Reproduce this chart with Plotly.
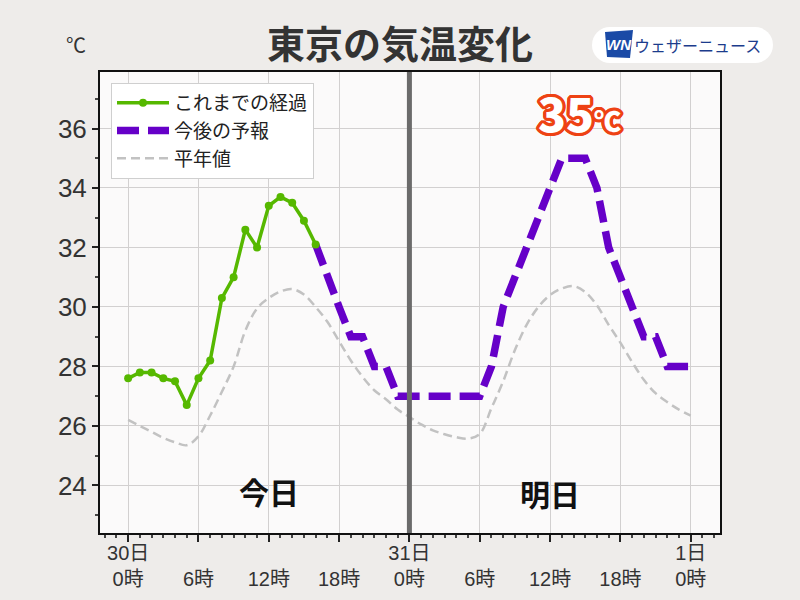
import math
import plotly.graph_objects as go

# ---------------- data ----------------
obs_hours = list(range(0, 17))
obs_temps = [27.6, 27.8, 27.8, 27.6, 27.5, 26.7, 27.6, 28.2, 30.3, 31.0, 32.6,
             32.0, 33.4, 33.7, 33.5, 32.9, 32.1]

fc_hours = list(range(16, 49))
fc_temps = [32.1, 31, 30, 29, 29, 28, 28, 27, 27, 27, 27, 27, 27, 27, 27,
            28, 30, 31, 32, 33, 34, 35, 35, 35, 34, 32, 31, 30, 29, 29, 28, 28, 28]

norm_hours = list(range(0, 49))
norm_temps = [26.2, 26.0, 25.8, 25.6, 25.45, 25.35, 25.65, 26.35, 27.15, 28.0,
              29.2, 29.95, 30.3, 30.52, 30.6, 30.42, 30.0, 29.5, 28.85, 28.2,
              27.65, 27.2, 26.9, 26.55, 26.3,
              26.05, 25.85, 25.72, 25.62, 25.57, 25.73, 26.6, 27.5, 28.55, 29.4,
              30.0, 30.4, 30.62, 30.7, 30.5, 30.05, 29.4, 28.8, 28.15, 27.55,
              27.1, 26.8, 26.55, 26.35]

series_names = ["これまでの経過", "今後の予報", "平年値"]
x_tickvals = [0, 6, 12, 18, 24, 30, 36, 42, 48]
x_ticktext = ["30日<br>0時", " <br>6時", " <br>12時", " <br>18時", "31日<br>0時",
              " <br>6時", " <br>12時", " <br>18時", "1日<br>0時"]
y_tickvals = [24, 26, 28, 30, 32, 34, 36]
day_boundary = 24
day_labels = ["今日", "明日"]
day_label_pos = [(12, 23.8), (36, 23.75)]
peak_label = "35"
peak_label_pos = (38.5, 36.55)

# ---------------- layout geometry ----------------
W, H = 800, 600
L, R, T, B = 100, 80, 72, 67
PW, PH = W - L - R, H - T - B


def px(xp, yp):
    """pixel -> paper coords (for decorations only)"""
    return (xp - L) / PW, (H - B - yp) / PH


FONT = "Liberation Sans, Noto Sans CJK JP, sans-serif"
JP = "Noto Sans CJK JP, sans-serif"

fig = go.Figure()

fig.add_trace(go.Scatter(
    x=norm_hours, y=norm_temps, mode="lines", name=series_names[2],
    line=dict(color="#c2c2c2", width=2.5, dash="9px,5px", shape="spline", smoothing=1.0),
    legendrank=3, hoverinfo="skip"))

fig.add_trace(go.Scatter(
    x=fc_hours, y=fc_temps, mode="lines", name=series_names[1],
    line=dict(color="#6600c8", width=7.5, dash="22px,9px"),
    legendrank=2))

fig.add_trace(go.Scatter(
    x=obs_hours, y=obs_temps, mode="lines+markers", name=series_names[0],
    line=dict(color="#56b800", width=3.5),
    marker=dict(color="#56b800", size=8),
    legendrank=1))

shapes = []
# day boundary line
shapes.append(dict(type="line", xref="x", yref="paper", x0=day_boundary, x1=day_boundary,
                   y0=0, y1=1, line=dict(color="#6b6b6b", width=5), layer="above"))

# logo pill
x0, y0 = px(592, 63)
x1, y1 = px(773, 27)
r_px = 18
shapes.append(dict(type="rect", xref="paper", yref="paper",
                   x0=px(592 + r_px, 0)[0], x1=px(773 - r_px, 0)[0], y0=y0, y1=y1,
                   fillcolor="white", line=dict(width=0), layer="above"))
for cx in (592 + r_px, 773 - r_px):
    a0, b0 = px(cx - r_px, 63)
    a1, b1 = px(cx + r_px, 27)
    shapes.append(dict(type="circle", xref="paper", yref="paper", x0=a0, x1=a1, y0=b0, y1=b1,
                       fillcolor="white", line=dict(width=0), layer="above"))
# WN logo mark
pts = [(605, 32), (633, 30), (630, 58), (607, 57)]
pp = [px(*p) for p in pts]
path = "M {} {} L {} {} L {} {} L {} {} Z".format(*[c for p in pp for c in p])
shapes.append(dict(type="path", xref="paper", yref="paper", path=path,
                   fillcolor="#1a4aa6", line=dict(width=0), layer="above"))

annotations = []
# degree unit
ax, ay = px(76, 45)
annotations.append(dict(text="℃", xref="paper", yref="paper", x=ax, y=ay, showarrow=False,
                        xanchor="center", yanchor="middle",
                        font=dict(family=JP, size=20, color="#333")))
# day labels
for lab, (dx, dy) in zip(day_labels, day_label_pos):
    annotations.append(dict(text=lab, xref="x", yref="y", x=dx, y=dy, showarrow=False,
                            xanchor="center", yanchor="middle",
                            font=dict(family=JP, size=30, color="#111", weight="bold")))
# 35 label with outline
offs = []
for k in range(16):
    a = 2 * math.pi * k / 16
    offs.append(f"{3.2*math.cos(a):.2f}px {3.2*math.sin(a):.2f}px 0 #ee4214")
shadow = ", ".join(offs)
annotations.append(dict(text=peak_label + "<span style='font-size:27px'>℃</span>",
                        xref="x", yref="y", x=peak_label_pos[0], y=peak_label_pos[1],
                        showarrow=False, xanchor="center", yanchor="middle",
                        font=dict(family=JP, size=46, color="white", weight=900, shadow=shadow)))
# logo texts
lx, ly = px(619, 45)
annotations.append(dict(text="<i><b>WN</b></i>", xref="paper", yref="paper", x=lx, y=ly,
                        showarrow=False, xanchor="center", yanchor="middle",
                        font=dict(family="Liberation Sans", size=15, color="white")))
tx, ty = px(697, 45)
annotations.append(dict(text="ウェザーニュース", xref="paper", yref="paper", x=tx, y=ty,
                        showarrow=False, xanchor="center", yanchor="middle",
                        font=dict(family=JP, size=16, color="#1c3c8c")))

fig.update_layout(
    width=W, height=H,
    margin=dict(l=L, r=R, t=T, b=B, autoexpand=False),
    paper_bgcolor="#eeecea",
    plot_bgcolor="#fbfafa",
    title=dict(text="<b>東京の気温変化</b>", x=0.5, xref="container", y=1 - 45 / H,
               yref="container", xanchor="center", yanchor="middle",
               font=dict(family=JP, size=38, color="#333")),
    showlegend=True,
    legend=dict(x=px(111, 0)[0], y=px(0, 83)[1], xanchor="left", yanchor="top",
                bgcolor="white", bordercolor="#cfcfcf", borderwidth=1,
                font=dict(family=JP, size=19, color="#222"),
                itemwidth=52, tracegroupgap=0),
    shapes=shapes,
    annotations=annotations,
    font=dict(family=FONT),
)

fig.update_xaxes(
    range=[-2.4, 50.5], tickmode="array", tickvals=x_tickvals, ticktext=x_ticktext,
    automargin=False,
    showgrid=True, gridcolor="#d2d0d0", gridwidth=1, zeroline=False,
    ticks="outside", ticklen=7, tickwidth=1.5, tickcolor="#222",
    ticklabelstandoff=-6,
    showline=True, linecolor="#111", linewidth=2, mirror=True,
    tickfont=dict(family=FONT, size=20, color="#333"),
    minor=dict(dtick=1, tick0=0, ticks="outside", ticklen=3, tickcolor="#444", showgrid=False),
)
fig.update_yaxes(
    range=[22.4, 37.9], tickmode="array", tickvals=y_tickvals,
    automargin=False,
    showgrid=True, gridcolor="#d2d0d0", gridwidth=1, zeroline=False,
    ticks="outside", ticklen=6, tickwidth=1.5, tickcolor="#222",
    showline=True, linecolor="#111", linewidth=2, mirror=True,
    tickfont=dict(family=FONT, size=26, color="#333"),
    minor=dict(dtick=1, tick0=0, ticks="outside", ticklen=3, tickcolor="#444", showgrid=False),
)

fig.write_html("out.html")
